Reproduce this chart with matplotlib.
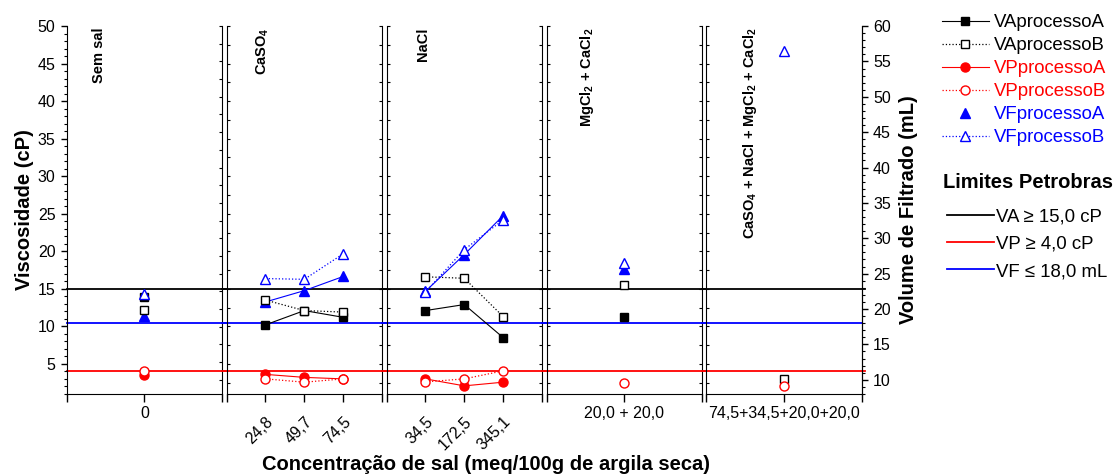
import numpy as np
import matplotlib
matplotlib.use('Agg')
import matplotlib.pyplot as plt
from matplotlib.lines import Line2D
from matplotlib.ticker import MultipleLocator, NullLocator, FixedLocator

plt.rcParams['font.family'] = ['Liberation Sans', 'DejaVu Sans']
plt.rcParams['mathtext.fontset'] = 'custom'
plt.rcParams['mathtext.rm'] = 'Liberation Sans'
plt.rcParams['mathtext.default'] = 'regular'

# panels (salt type) and their tick labels
panel_names = ['Sem sal', 'CaSO$_4$', 'NaCl', 'MgCl$_2$ + CaCl$_2$',
               'CaSO$_4$ + NaCl + MgCl$_2$ + CaCl$_2$']
tick_labels = [['0'],
               ['24,8', '49,7', '74,5'],
               ['34,5', '172,5', '345,1'],
               ['20,0 + 20,0'],
               ['74,5+34,5+20,0+20,0']]

nan = np.nan
# viscosidade aparente (cP)
va_a = [[13.9], [10.2, 12.1, 11.2], [12.1, 12.9, 8.5], [11.2], [nan]]
va_b = [[12.2], [13.5, 12.1, 11.9], [16.6, 16.4, 11.3], [15.5], [2.96]]
# viscosidade plastica (cP)
vp_a = [[3.5], [3.6, 3.2, 3.0], [3.0, 2.07, 2.56], [nan], [nan]]
vp_b = [[4.0], [3.0, 2.56, 3.0], [2.6, 3.0, 4.07], [2.5], [2.07]]
# volume de filtrado (mL)
vf_a = [[19.0], [21.0, 22.6, 24.6], [22.5, 27.7, 33.2], [25.6], [nan]]
vf_b = [[22.1], [24.3, 24.2, 27.8], [22.4, 28.4, 32.6], [26.5], [56.5]]

# limites Petrobras
va_lim = 15.0
vp_lim = 4.0
vf_lim = 18.0

fig = plt.figure(figsize=(11.15, 4.74), dpi=100)
axes = fig.subplots(1, 5)
fig.subplots_adjust(left=0.0598, right=0.773, bottom=0.169, top=0.945, wspace=0.029)

name_x = [0.21, 0.23, 0.235, 0.26, 0.28]
n = len(axes)
for i, ax in enumerate(axes):
    tw = ax.twinx()
    k = len(tick_labels[i])
    xs = [2] if k == 1 else [1, 2, 3]

    ax.plot(xs, va_a[i], '-', color='black', marker='s', ms=6, lw=0.8, zorder=2.1)
    ax.plot(xs, vf_a[i], '-', color='blue', marker='^', ms=7.5, lw=0.8, zorder=2.2,
            transform=tw.transData)
    ax.plot(xs, va_b[i], ':', color='black', marker='s', ms=6, mfc='white', lw=0.9, zorder=2.3)
    ax.plot(xs, vf_b[i], ':', color='blue', marker='^', ms=7.5, mfc='white', lw=0.9, zorder=2.4,
            transform=tw.transData)
    ax.plot(xs, vp_a[i], '-', color='red', marker='o', ms=6.5, lw=0.8, zorder=2.5)
    ax.plot(xs, vp_b[i], ':', color='red', marker='o', ms=6.5, mfc='white', lw=0.9, zorder=2.6)

    x0 = 0 if i == 0 else -0.03
    x1 = 1.02 if i == n - 1 else 1.03
    ax.axhline(va_lim, xmin=x0, xmax=x1, color='black', lw=1.3, clip_on=False, zorder=1)
    ax.axhline(vp_lim, xmin=x0, xmax=x1, color='red', lw=1.3, clip_on=False, zorder=1)
    bl = ax.axhline(vf_lim, xmin=x0, xmax=1.0 if i == n - 1 else x1, color='blue', lw=1.3,
                    clip_on=False, zorder=1)
    bl.set_transform(tw.get_yaxis_transform())

    ax.set_xlim(0, 4)
    ax.set_ylim(1, 50)
    tw.set_ylim(8, 60)

    ax.spines['top'].set_visible(False)
    tw.spines['top'].set_visible(False)
    tw.spines['left'].set_visible(False)
    tw.spines['bottom'].set_visible(False)
    if i < n - 1:
        tw.spines['right'].set_visible(False)

    # x ticks
    ax.xaxis.set_major_locator(FixedLocator(xs))
    ax.xaxis.set_minor_locator(FixedLocator([0, 4]))
    ax.tick_params(axis='x', which='both', direction='out', length=5.5, width=1)
    if k == 3:
        ax.set_xticklabels(tick_labels[i], rotation=45, ha='right', rotation_mode='anchor',
                           fontsize=11.5)
        ax.tick_params(axis='x', which='major', pad=9)
    else:
        ax.set_xticklabels(tick_labels[i], fontsize=11.5)

    # y ticks
    if i == 0:
        ax.yaxis.set_major_locator(MultipleLocator(5))
        ax.yaxis.set_minor_locator(MultipleLocator(1))
        ax.tick_params(axis='y', which='major', direction='out', length=4.5, width=1,
                       left=True, right=False, labelsize=11.5)
        ax.tick_params(axis='y', which='minor', direction='out', length=2.5, width=0.8,
                       left=True, right=False)
        ax.set_ylabel('Viscosidade (cP)', fontsize=14.5, fontweight='bold', labelpad=3)
        tw.yaxis.set_major_locator(MultipleLocator(2.5))
        tw.yaxis.set_minor_locator(NullLocator())
        tw.tick_params(axis='y', direction='in', length=2, width=0.8, right=True,
                       labelright=False)
    else:
        ax.yaxis.set_major_locator(MultipleLocator(2.5))
        ax.yaxis.set_minor_locator(NullLocator())
        ax.tick_params(axis='y', direction='in', length=2, width=0.8, left=True,
                       right=(i < n - 1), labelleft=False, labelright=False)
        if i < n - 1:
            tw.tick_params(axis='y', which='both', right=False, labelright=False)
        else:
            tw.yaxis.set_major_locator(MultipleLocator(5))
            tw.yaxis.set_minor_locator(MultipleLocator(1))
            tw.tick_params(axis='y', which='major', direction='out', length=4.5, width=1,
                           labelsize=11.5)
            tw.tick_params(axis='y', which='minor', direction='out', length=2.5, width=0.8)
            tw.set_ylabel('Volume de Filtrado (mL)', fontsize=14.5, fontweight='bold',
                          labelpad=6)

    ax.text(name_x[i], 0.997, panel_names[i], transform=ax.transAxes, rotation=90,
            ha='center', va='top', fontsize=10.5, fontweight='bold')

fig.text(0.436, 0.021, 'Concentração de sal (meq/100g de argila seca)', ha='center',
         va='center', fontsize=14.5, fontweight='bold')

# legend of series
series_handles = [
    Line2D([], [], color='black', ls='-', lw=0.8, marker='s', ms=6),
    Line2D([], [], color='black', ls=':', lw=0.9, marker='s', ms=6, mfc='white'),
    Line2D([], [], color='red', ls='-', lw=0.8, marker='o', ms=6.5),
    Line2D([], [], color='red', ls=':', lw=0.9, marker='o', ms=6.5, mfc='white'),
    Line2D([], [], color='blue', ls='none', marker='^', ms=7.5),
    Line2D([], [], color='blue', ls=':', lw=0.9, marker='^', ms=7.5, mfc='white'),
]
series_labels = ['VAprocessoA', 'VAprocessoB', 'VPprocessoA', 'VPprocessoB',
                 'VFprocessoA', 'VFprocessoB']
series_colors = ['black', 'black', 'red', 'red', 'blue', 'blue']
leg1 = fig.legend(series_handles, series_labels, loc='upper left',
                  bbox_to_anchor=(0.845, 0.970), frameon=False, fontsize=13.4,
                  handlelength=2.5, handletextpad=0.3, labelspacing=0.32,
                  borderpad=0, borderaxespad=0)
for t, c in zip(leg1.get_texts(), series_colors):
    t.set_color(c)

fig.text(0.922, 1 - 183 / 474, 'Limites Petrobras', ha='center', va='center',
         fontsize=14.5, fontweight='bold')
limit_handles = [Line2D([], [], color='black', lw=1.3),
                 Line2D([], [], color='red', lw=1.3),
                 Line2D([], [], color='blue', lw=1.3)]
limit_labels = ['VA ≥ 15,0 cP', 'VP ≥ 4,0 cP', 'VF ≤ 18,0 mL']
leg2 = fig.legend(limit_handles, limit_labels, loc='upper left',
                  bbox_to_anchor=(0.8495, 0.561), frameon=False, fontsize=13.4,
                  handlelength=2.5, handletextpad=0.1, labelspacing=0.56,
                  borderpad=0, borderaxespad=0)

fig.savefig('out.png', dpi=100)
